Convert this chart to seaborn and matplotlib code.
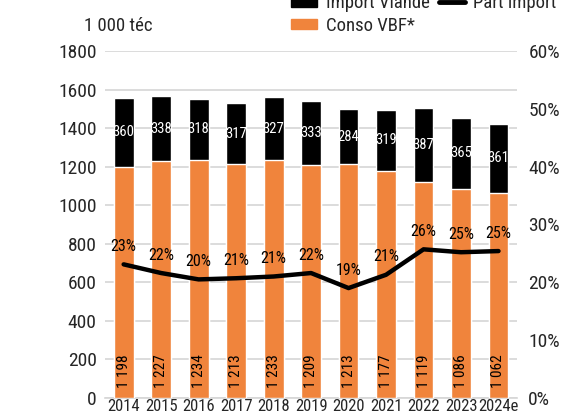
"""
Conso VBF et import de viande bovine, 2014-2024e
"""

import numpy as np
import pandas as pd
import matplotlib
matplotlib.use('Agg')
import matplotlib.pyplot as plt
from matplotlib import font_manager
from matplotlib.patches import Patch
from matplotlib.lines import Line2D
import seaborn as sns

# Data
years = ['2014', '2015', '2016', '2017', '2018', '2019', '2020', '2021', '2022', '2023', '2024e']
conso = [1198, 1227, 1234, 1213, 1233, 1209, 1213, 1177, 1119, 1086, 1062]
imports = [360, 338, 318, 317, 327, 333, 284, 319, 387, 365, 361]
share_pct = [23.1, 21.6, 20.5, 20.7, 21.0, 21.6, 19.0, 21.3, 25.7, 25.2, 25.4]
share_labels = ['23%', '22%', '20%', '21%', '21%', '22%', '19%', '21%', '26%', '25%', '25%']

ORANGE = '#f0843c'
GRID = '#d6d6d6'

sns.set_style('white')
# look for a narrow face, else fall back on condensed DejaVu
names = {f.name for f in font_manager.fontManager.ttflist}
narrow = [n for n in ['Liberation Sans Narrow', 'Roboto Condensed', 'Open Sans Condensed',
                      'DejaVu Sans Condensed'] if n in names]
plt.rcParams['font.family'] = narrow + ['DejaVu Sans']
plt.rcParams['font.stretch'] = 'condensed'

df = pd.DataFrame({'year': years, 'conso': conso, 'imports': imports})
df['total'] = df['conso'] + df['imports']

fig = plt.figure(figsize=(5.61, 4.18), dpi=100)
ax = fig.add_axes([0.187, 0.048, 0.735, 0.830])

sns.barplot(data=df, x='year', y='total', color='black', width=0.53,
            saturation=1, ax=ax, zorder=2)
sns.barplot(data=df, x='year', y='conso', color=ORANGE, width=0.53,
            saturation=1, ax=ax, zorder=3)

ax.set_ylim(0, 1800)
ax.set_xlim(-0.5, len(years) - 0.5)
ax.set_yticks(range(0, 1801, 200))
ax.yaxis.grid(True, color=GRID, lw=1.2, zorder=0)
ax.set_axisbelow(True)
for s in ['top', 'right', 'left']:
    ax.spines[s].set_visible(False)
ax.spines['bottom'].set_color(GRID)
ax.spines['bottom'].set_linewidth(1.2)
ax.tick_params(axis='y', length=0, labelsize=14, pad=6)
ax.tick_params(axis='x', length=0, labelsize=12, pad=1)
ax.set_xlabel('')
ax.set_ylabel('')

for i, (c, m) in enumerate(zip(df['conso'], df['imports'])):
    ax.text(i, c + m / 2, str(m), color='white', ha='center', va='center',
            fontsize=10.5, zorder=5)
    ax.text(i, 50, f'{c // 1000} {c % 1000:03d}', color='black', ha='center',
            va='bottom', rotation=90, fontsize=11, zorder=5)

ax2 = ax.twinx()
sns.lineplot(x=np.arange(len(years)), y=share_pct, color='black', lw=3.2,
             ax=ax2, zorder=6)
ax2.set_ylim(0, 60)
ax2.set_yticks(range(0, 61, 10))
ax2.set_yticklabels([f'{v}%' for v in range(0, 61, 10)])
ax2.tick_params(axis='y', length=0, labelsize=14, pad=8)
for s in ax2.spines.values():
    s.set_visible(False)
ax2.set_ylabel('')
for i, (v, lab) in enumerate(zip(share_pct, share_labels)):
    ax2.text(i, v + 3.1, lab, ha='center', va='center', fontsize=11.5,
             color='black')

fig.text(0.211, 0.937, '1 000 téc', ha='center', va='center', fontsize=13.5)

handles = [Patch(color='black', label='Import Viande'),
           Patch(color=ORANGE, label='Conso VBF*'),
           Line2D([], [], color='black', lw=3.5, solid_capstyle='round',
                  label='Part import')]
fig.legend(handles=handles, ncol=2, loc='upper left',
           bbox_to_anchor=(0.495, 1.045), frameon=False, fontsize=13.5,
           handlelength=1.4, handleheight=0.45, columnspacing=0.5,
           labelspacing=0.25, handletextpad=0.45, borderpad=0.2)

fig.savefig('out.png', dpi=100)
